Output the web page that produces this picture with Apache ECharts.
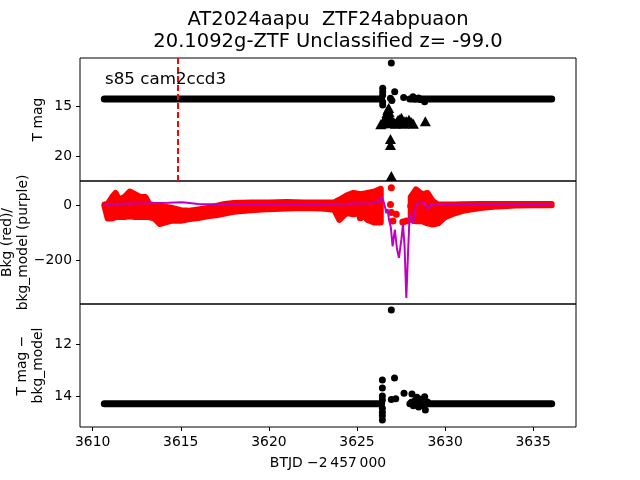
<!DOCTYPE html>
<html>
<head>
<meta charset="utf-8">
<script src="https://cdn.jsdelivr.net/npm/echarts@6/dist/echarts.min.js"></script>
<style>html,body{margin:0;padding:0;background:#fff}#c{width:640px;height:480px}</style>
</head>
<body>
<div id="c"></div>
<script>
// ---------- data ----------
const titleLines = ['AT2024aapu  ZTF24abpuaon', '20.1092g-ZTF Unclassified z= -99.0'];
const sectorText = 's85 cam2ccd3';
const markTime = 3614.85;

const xTicks = [3610, 3615, 3620, 3625, 3630, 3635];
const magTicks = [15, 20];
const bkgTicks = [0, -200];
const diffTicks = [12, 14];

// top panel: T mag (dense band drawn as thick track, gaps marked '-')
const tmagBand = [[3610.66, 14.31], [3616, 14.31], [3622, 14.3], [3626.4, 14.3], [3627.2, '-'], [3628.0, 14.3], [3632, 14.31], [3636.05, 14.3]];
const tmagPoints = [[3626.95, 10.75], [3626.46, 13.25], [3626.46, 13.6], [3626.46, 13.9], [3626.46, 14.6], [3626.46, 14.9],
  [3627.14, 13.58], [3626.9, 14.24], [3626.98, 14.45], [3627.65, 14.17], [3628.18, 14.08], [3628.5, 14.2],
  [3628.84, 14.58], [3628.3, 14.3], [3628.6, 14.35]];
const tmagLimits = [[3626.35, 16.8], [3626.45, 16.7], [3626.55, 16.6], [3626.6, 16.3], [3626.65, 16.0], [3626.7, 15.7],
  [3626.75, 15.4], [3626.8, 15.2], [3626.82, 15.6], [3626.85, 16.0], [3626.9, 16.4], [3626.95, 16.7], [3627.02, 16.5],
  [3627.1, 16.6], [3627.18, 16.75], [3627.25, 16.6], [3627.32, 16.4], [3627.4, 16.3], [3627.46, 16.5], [3627.52, 16.15],
  [3627.58, 16.6], [3627.65, 16.75], [3627.72, 16.5], [3627.8, 16.5], [3627.88, 16.6], [3627.95, 16.35], [3628.02, 16.6],
  [3628.1, 16.6], [3628.2, 16.75], [3628.88, 16.5], [3626.9, 18.25], [3626.9, 18.85], [3626.95, 21.9]];

// middle panel: background flux (red) envelope, outliers and model (purple)
const redLeftT = [3610.66, 3610.85, 3611.1, 3611.3, 3611.5, 3611.8, 3612.1, 3612.4, 3612.7, 3613.0, 3613.2, 3613.5, 3613.8, 3614.1, 3614.5, 3615.0, 3615.5, 3616.0, 3616.5, 3617.0, 3617.5, 3618.0, 3619.0, 3620.0, 3621.0, 3622.0, 3623.0, 3623.7, 3624.0, 3624.4, 3624.8, 3625.2, 3625.6, 3626.0, 3626.35];
const redLeftHi = [2, 4, 29, 44, 19, 29, 49, 39, 29, 29, 4, -1, -1, -6, -11, -19, -21, -16, -11, -3, 4, 7, 9, 9, 11, 9, 9, 9, 19, 34, 44, 39, 44, 49, 59];
const redLeftLo = [-2, -49, -49, -44, -44, -44, -41, -44, -44, -44, -44, -49, -69, -64, -57, -57, -51, -47, -41, -37, -31, -25, -19, -15, -13, -11, -13, -17, -54, -29, -34, -29, -54, -64, -64];
const redRightT = [3628.05, 3628.35, 3628.7, 3629.0, 3629.3, 3629.6, 3630.0, 3630.5, 3631.0, 3632.0, 3633.0, 3634.0, 3635.0, 3636.05];
const redRightHi = [29, 57, 39, 44, 14, 2, 2, 2, 3, 4, 4, 4, 4, 4];
const redRightLo = [-54, -59, -59, -67, -71, -67, -44, -31, -21, -11, -5, -2, -1, -1];
const redPoints = [[3625.19, -46], [3626.9, 2], [3626.95, 63], [3626.95, -27], [3627.04, -58], [3627.23, -34], [3627.6, -62], [3627.8, -58], [3628.05, -4]];
const bkgModel = [[3610.66, 3], [3611.5, 5], [3613, 6], [3614.3, 8], [3615.1, 10], [3616, 4], [3617.5, 2], [3619, 3], [3621, 4], [3623, 4],
  [3624.5, 5], [3625.8, 6], [3626.2, 8], [3626.38, 30], [3626.5, 15], [3626.6, -10], [3626.67, -30], [3626.74, -15], [3626.82, -55],
  [3626.92, -80], [3627.02, -150], [3627.15, -90], [3627.27, -160], [3627.38, -192], [3627.52, -125], [3627.61, -70], [3627.7, -150],
  [3627.8, -338], [3627.9, -170], [3627.99, -34], [3628.09, -46], [3628.18, -68], [3628.33, -4], [3628.46, 6], [3628.84, 6],
  [3629.03, -14], [3629.22, 3], [3629.51, 4], [3632, 3], [3636.05, 3]];

// bottom panel: T mag - bkg_model
const diffBand = [[3610.66, 14.27], [3618, 14.27], [3626.4, 14.27], [3627.2, '-'], [3628.0, 14.27], [3632, 14.27], [3636.05, 14.27]];
const diffPoints = [[3626.95, 10.69], [3626.44, 13.36], [3626.44, 13.67], [3627.13, 13.29], [3626.44, 13.98], [3626.44, 14.13],
  [3626.44, 14.44], [3626.44, 14.6], [3626.44, 14.73], [3626.44, 14.89], [3626.95, 14.11], [3627.2, 14.08], [3627.67, 13.87],
  [3628.12, 13.9], [3628.09, 14.21], [3628.4, 14.02], [3628.84, 14.0], [3628.88, 14.51], [3628.66, 14.28], [3628.5, 14.4],
  [3628.3, 14.15], [3628.6, 14.1], [3628.75, 14.35], [3628.2, 14.35], [3629.0, 14.2]];

// ---------- chart ----------
const FONT = 'DejaVu Sans';
const minus = v => String(v).replace('-', '\u2212');
const redSegs = [
  {t: redLeftT, hi: redLeftHi, lo: redLeftLo},
  {t: redRightT, hi: redRightHi, lo: redRightLo}
];

const grids = [
  {left: 80, right: 64, top: 58, height: 123},
  {left: 80, right: 64, top: 181, height: 123},
  {left: 80, right: 64, top: 304, height: 123}
].map(g => Object.assign(g, {show: true, borderColor: '#000', borderWidth: 1, backgroundColor: 'transparent',
  containLabel: false, outerBoundsMode: 'none'}));

function xAx(i, showLabels) {
  return {
    type: 'value', gridIndex: i, min: 3609.28, max: 3637.43,
    axisLine: {show: false}, splitLine: {show: false},
    axisTick: {show: showLabels, length: 4, lineStyle: {color: '#000'}, customValues: xTicks},
    axisLabel: {show: showLabels, color: '#000', fontFamily: FONT, fontSize: 13.9, margin: 8, customValues: xTicks,
      formatter: v => String(v)},
    name: showLabels ? 'BTJD \u22122\u2009457\u2009000' : '',
    nameLocation: 'middle', nameGap: 29, nameMoveOverlap: false,
    nameTextStyle: {color: '#000', fontFamily: FONT, fontSize: 13.9}
  };
}
function yAx(i, min, max, inverse, ticks, name, gap) {
  return {
    type: 'value', gridIndex: i, min: min, max: max, inverse: inverse,
    axisLine: {show: false}, splitLine: {show: false},
    axisTick: {show: true, length: 4, lineStyle: {color: '#000'}, customValues: ticks},
    axisLabel: {color: '#000', fontFamily: FONT, fontSize: 13.9, margin: 8, customValues: ticks, formatter: minus},
    name: name, nameLocation: 'middle', nameGap: gap, nameMoveOverlap: false,
    nameTextStyle: {color: '#000', fontFamily: FONT, fontSize: 13.9, lineHeight: 16}
  };
}

const option = {
  animation: false,
  backgroundColor: '#fff',
  grid: grids,
  xAxis: [xAx(0, false), xAx(1, false), xAx(2, true)],
  yAxis: [
    yAx(0, 10.26, 22.4, true, magTicks, 'T mag', 34),
    yAx(1, -360, 87.3, false, bkgTicks, 'Bkg (red)/\nbkg_model (purple)', 49),
    yAx(2, 10.46, 15.16, true, diffTicks, 'T mag \u2212\nbkg_model', 34)
  ],
  graphic: [
    {type: 'text', x: 328, y: 20, style: {text: titleLines[0], font: '19.5px "DejaVu Sans"', fill: '#000', align: 'center', verticalAlign: 'middle'}},
    {type: 'text', x: 328, y: 42, style: {text: titleLines[1], font: '19.5px "DejaVu Sans"', fill: '#000', align: 'center', verticalAlign: 'middle'}},
    {type: 'text', x: 105, y: 71, z: 100, style: {text: sectorText, font: '16.7px "DejaVu Sans"', fill: '#000', align: 'left', verticalAlign: 'alphabetic'}}
  ],
  series: [
    {type: 'line', xAxisIndex: 0, yAxisIndex: 0, data: tmagBand, showSymbol: false, connectNulls: false,
     lineStyle: {color: '#000', width: 7, cap: 'round'}, silent: true,
     markLine: {silent: true, symbol: 'none', label: {show: false},
       lineStyle: {color: '#ff0000', type: [6, 3], width: 2}, data: [{xAxis: markTime}]}},
    {type: 'scatter', xAxisIndex: 0, yAxisIndex: 0, data: tmagPoints, symbol: 'circle', symbolSize: 7,
     itemStyle: {color: '#000', opacity: 1}, silent: true},
    {type: 'scatter', xAxisIndex: 0, yAxisIndex: 0, data: tmagLimits, symbol: 'triangle', symbolSize: [11, 10],
     itemStyle: {color: '#000', opacity: 1}, silent: true},
    {type: 'custom', xAxisIndex: 1, yAxisIndex: 1, clip: true, silent: true,
     data: redSegs.map((s, k) => [s.t[0], s.hi[0], k]), encode: {x: 0, y: 1},
     renderItem: function (params, api) {
       const s = redSegs[params.dataIndex];
       const pts = [];
       for (let i = 0; i < s.t.length; i++) pts.push(api.coord([s.t[i], s.hi[i]]));
       for (let i = s.t.length - 1; i >= 0; i--) pts.push(api.coord([s.t[i], s.lo[i]]));
       return {type: 'polygon', shape: {points: pts},
         style: {fill: '#ff0000', stroke: '#ff0000', lineWidth: 6, lineJoin: 'round'}};
     }},
    {type: 'scatter', xAxisIndex: 1, yAxisIndex: 1, data: redPoints, symbolSize: 7,
     itemStyle: {color: '#ff0000', opacity: 1}, silent: true},
    {type: 'line', xAxisIndex: 1, yAxisIndex: 1, data: bkgModel, showSymbol: false,
     lineStyle: {color: '#bf00bf', width: 2}, silent: true, z: 5},
    {type: 'line', xAxisIndex: 2, yAxisIndex: 2, data: diffBand, showSymbol: false, connectNulls: false,
     lineStyle: {color: '#000', width: 7, cap: 'round'}, silent: true},
    {type: 'scatter', xAxisIndex: 2, yAxisIndex: 2, data: diffPoints, symbolSize: 7,
     itemStyle: {color: '#000', opacity: 1}, silent: true}
  ]
};
const chart = echarts.init(document.getElementById('c'), null, {renderer: 'canvas'});
chart.setOption(option);
</script>
</body>
</html>
